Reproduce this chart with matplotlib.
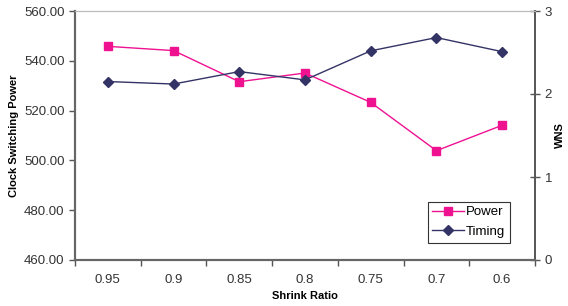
import numpy as np
import matplotlib
matplotlib.use('Agg')
import matplotlib.pyplot as plt

# Data
ratios = ['0.95', '0.9', '0.85', '0.8', '0.75', '0.7', '0.6']
power = [545.8, 544.1, 531.6, 535.1, 523.3, 503.9, 514.1]
timing = [2.15, 2.12, 2.27, 2.17, 2.52, 2.68, 2.51]

plt.rcParams['font.family'] = ['Liberation Sans', 'DejaVu Sans']

fig = plt.figure(figsize=(5.68, 3.06), dpi=100)
ax = fig.add_axes([75/568, 1-260/306, 460/568, 249/306])
ax2 = ax.twinx()

x = np.arange(len(ratios))
l1, = ax.plot(x, power, color='#ee1190', lw=1, marker='s', ms=6,
              label='Power')
l2, = ax2.plot(x, timing, color='#333366', lw=1, marker='D', ms=5,
               label='Timing')

ax.set_xlim(-0.5, len(ratios) - 0.5)
ax.set_ylim(460, 560)
ax.set_yticks(np.arange(460, 561, 20))
ax.set_yticklabels(['%.2f' % v for v in np.arange(460, 561, 20)])
ax2.set_ylim(0, 3)
ax2.set_yticks([0, 1, 2, 3])

ax.set_xticks(x)
ax.set_xticklabels(ratios)
ax.set_xticks(np.arange(-0.5, len(ratios)), minor=True)
ax.tick_params(axis='x', which='major', length=0, pad=10, labelsize=9.5,
               colors='#333333')
ax.tick_params(axis='x', which='minor', length=4, width=1, color='#555555')
ax.tick_params(axis='y', length=4, width=1, color='#555555', labelsize=9.5,
               labelcolor='#333333')
ax2.tick_params(axis='y', direction='inout', length=7, width=1,
                color='#555555', labelsize=9.5, labelcolor='#333333')

for a in (ax, ax2):
    a.spines['top'].set_color('#bbbbbb')
    a.spines['left'].set_color('#666666')
    a.spines['left'].set_linewidth(1.5)
    a.spines['bottom'].set_color('#666666')
    a.spines['bottom'].set_linewidth(1.5)
    a.spines['right'].set_color('#555555')
    a.spines['right'].set_linewidth(1.2)

ax.set_xlabel('Shrink Ratio', fontsize=8, fontweight='bold', labelpad=4)
ax.set_ylabel('Clock Switching Power', fontsize=8, fontweight='bold',
              labelpad=4)
ax2.set_ylabel('WNS', fontsize=8, fontweight='bold', labelpad=2)

leg = ax2.legend(handles=[l1, l2], loc='lower right',
                 bbox_to_anchor=(0.945, 0.07), fontsize=9.5, frameon=True,
                 fancybox=False, edgecolor='black', handlelength=2.4,
                 borderpad=0.35, labelspacing=0.55, handletextpad=0.15,
                 borderaxespad=0)
leg.get_frame().set_linewidth(0.8)

fig.savefig('out.png', dpi=100)
